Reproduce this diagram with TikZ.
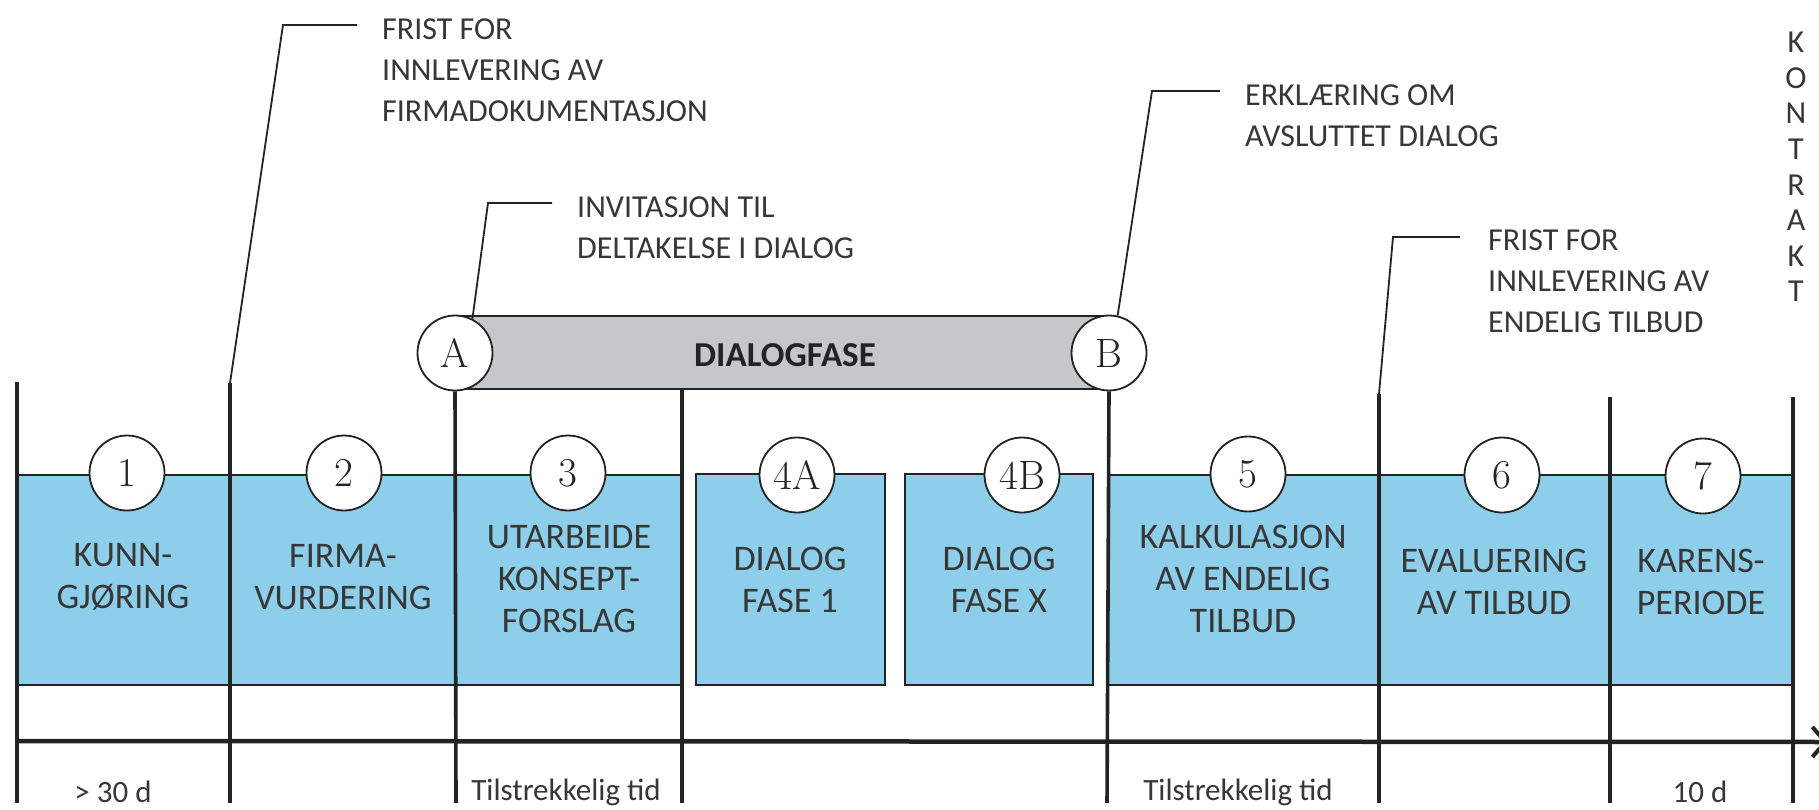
\documentclass[tikz,border=0pt]{standalone}
\usepackage{fontspec}
\newfontfamily\calfont{Carlito}
\usetikzlibrary{arrows.meta}
\definecolor{bandblue}{RGB}{141,206,234}
\definecolor{bargray}{RGB}{198,199,203}
\definecolor{ink}{RGB}{35,35,35}
\definecolor{txt}{RGB}{55,55,55}
\begin{document}
\begin{tikzpicture}[x=1pt,y=-1pt,
  thinl/.style={draw=ink, line width=1.8pt},
  sepline/.style={draw=ink, line width=3.6pt},
  band/.style={fill=bandblue, draw=ink, line width=1.8pt},
  num/.style={circle, draw=ink, fill=white, line width=1.8pt, minimum size=75pt, inner sep=0pt, font=\fontsize{41}{41}\selectfont, text=ink},
  boxtext/.style={font=\calfont\fontsize{36}{42}\selectfont, text=txt, align=center, inner sep=0pt},
  lbl/.style={font=\calfont\fontsize{32}{41}\selectfont, text=txt, align=left, anchor=north west, inner sep=0pt},
  dur/.style={font=\calfont\fontsize{31}{31}\selectfont, text=txt, inner sep=0pt},
  lead/.style={draw=ink, line width=1.8pt, line join=miter}]
\useasboundingbox (0,0) rectangle (1819,810);
\clip (0,0) rectangle (1819,810);

% blue bands
\fill[bandblue] (17,475) rectangle (682,685);
\fill[bandblue] (1107,475) rectangle (1793,685);
\draw[thinl] (17,475) -- (682,475) (17,685) -- (682,685);
\draw[thinl] (1107,475) -- (1793,475) (1107,685) -- (1793,685);
\draw[band] (696,474) rectangle (885,685);
\draw[band] (905,474) rectangle (1093,685);

% gray dialog bar
\fill[bargray] (455,316) rectangle (1109,389);
\draw[thinl] (455,316) -- (1109,316) (455,389) -- (1109,389);
\node[font=\calfont\bfseries\fontsize{35}{35}\selectfont, text=ink] (dfase) at (785,355) {DIALOGFASE};
\node[num] (A) at (455,353) {A};
\node[num] (B) at (1109,353) {B};

% coordinates of separator lines
\coordinate (v0t) at (17,382);   \coordinate (v0b) at (17,803);
\coordinate (v1t) at (230,383);  \coordinate (v1b) at (230,803);
\coordinate (v2b) at (456,803);
\coordinate (v3t) at (682,389);  \coordinate (v3b) at (682,803);
\coordinate (v4b) at (1107,803);
\coordinate (v5t) at (1379,394); \coordinate (v5b) at (1379,803);
\coordinate (v6t) at (1610,397); \coordinate (v6b) at (1610,803);
\coordinate (v7t) at (1793,397); \coordinate (v7b) at (1793,803);

% timeline
\coordinate (tl0) at (17,741);
\coordinate (tl1) at (1828,742);
\draw[ink, line width=4.5pt, -{Straight Barb[length=13pt, width=30pt, line width=4pt]}] (tl0) -- (tl1);

% separators
\draw[sepline] (v0t) -- (v0b);
\draw[sepline] (v1t) -- (v1b);
\draw[sepline] (A.south) -- (v2b);
\draw[sepline] (v3t) -- (v3b);
\draw[sepline] (B.south) -- (v4b);
\draw[sepline] (v5t) -- (v5b);
\draw[sepline] (v6t) -- (v6b);
\draw[sepline] (v7t) -- (v7b);

% leader lines and labels
\node[lbl] (frist1) at (382,19) {FRIST FOR\\INNLEVERING AV\\FIRMADOKUMENTASJON};
\coordinate (e1) at (283,25); \coordinate (h1) at (357,25);
\draw[lead] (v1t) -- (e1) -- (h1);

\node[lbl] (invit) at (577,197) {INVITASJON TIL\\DELTAKELSE I DIALOG};
\coordinate (e2) at (488,203); \coordinate (h2) at (552,203);
\draw[lead] (A.63) -- (e2) -- (h2);

\node[lbl] (erkl) at (1245,85) {ERKLÆRING OM\\AVSLUTTET DIALOG};
\coordinate (e3) at (1152,91); \coordinate (h3) at (1220,91);
\draw[lead] (B.77) -- (e3) -- (h3);

\node[lbl] (frist2) at (1488,230) {FRIST FOR\\INNLEVERING AV\\ENDELIG TILBUD};
\coordinate (e4) at (1393,237); \coordinate (h4) at (1460,237);
\draw[lead] (v5t) -- (e4) -- (h4);

\node[font=\calfont\fontsize{32}{35.6}\selectfont, text=txt, align=center, anchor=north, inner sep=0pt] (kontrakt) at (1796,32) {K\\O\\N\\T\\R\\A\\K\\T};

% phase circles
\node[num] (c1) at (127,473) {1};
\node[num] (c2) at (344,473) {2};
\node[num] (c3) at (568,473) {3};
\node[num] (c4a) at (797,475) {4A};
\node[num] (c4b) at (1022,475) {4B};
\node[num] (c5) at (1248,474) {5};
\node[num] (c6) at (1502,475) {6};
\node[num] (c7) at (1703,476) {7};

% phase texts
\node[boxtext] (t1) at (123,577) {KUNN-\\GJØRING};
\node[boxtext] (t2) at (343,577) {FIRMA-\\VURDERING};
\node[boxtext] (t3) at (569,579) {UTARBEIDE\\KONSEPT-\\FORSLAG};
\node[boxtext] (t4a) at (790,580) {DIALOG\\FASE 1};
\node[boxtext] (t4b) at (999,580) {DIALOG\\FASE X};
\node[boxtext] (t5) at (1243,579) {KALKULASJON\\AV ENDELIG\\TILBUD};
\node[boxtext] (t6) at (1494,582) {EVALUERING\\AV TILBUD};
\node[boxtext] (t7) at (1701,582) {KARENS-\\PERIODE};

% durations
\node[dur] (d1) at (113,792) {> 30 d};
\node[dur] (d3) at (566,792) {Tilstrekkelig tid};
\node[dur] (d5) at (1238,792) {Tilstrekkelig tid};
\node[dur] (d7) at (1700,792) {10 d};
\end{tikzpicture}
\end{document}
